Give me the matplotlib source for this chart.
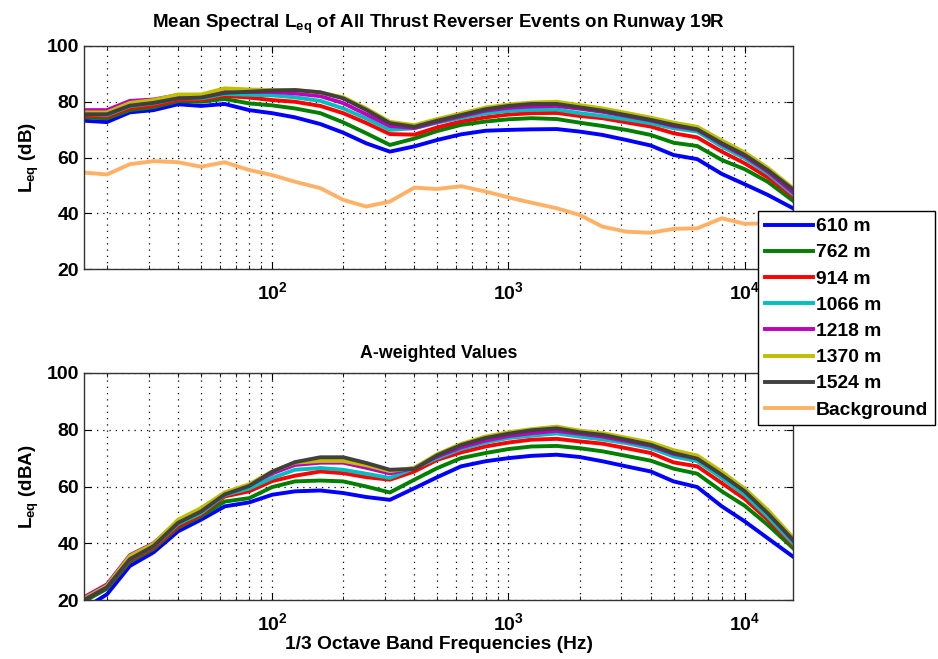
import numpy as np
import matplotlib
matplotlib.use('Agg')
import matplotlib.pyplot as plt
from matplotlib.ticker import LogLocator, NullFormatter, LogFormatterSciNotation

plt.rcParams['font.family'] = ['Liberation Sans', 'DejaVu Sans']
plt.rcParams['font.weight'] = 'bold'
plt.rcParams['mathtext.fontset'] = 'custom'
plt.rcParams['mathtext.rm'] = 'Liberation Sans:bold'
plt.rcParams['mathtext.bf'] = 'Liberation Sans:bold'
plt.rcParams['mathtext.it'] = 'Liberation Sans:bold'
plt.rcParams['mathtext.default'] = 'bf'

# 1/3 octave band centre frequencies (Hz)
freqs = [16, 20, 25, 31.5, 40, 50, 63, 80, 100, 125, 160, 200, 250, 315, 400, 500,
         630, 800, 1000, 1250, 1600, 2000, 2500, 3150, 4000, 5000, 6300, 8000,
         10000, 12500, 16000]

labels = ['610 m', '762 m', '914 m', '1066 m', '1218 m', '1370 m', '1524 m']
colors = ['#0000ff', '#007f00', '#ff0000', '#00bfbf', '#bf00bf', '#bfbf00', '#404040']
bg_color = '#ffb266'

# mean spectral Leq (dB)
top_610 = [73.2, 72.7, 76.2, 77, 79.1, 78.5, 79.2, 77, 75.9, 74.4, 72, 68.9, 65.1, 62.1, 64, 66.3,
           68.3, 69.6, 69.9, 70.1, 70.2, 69.3, 68.1, 66.3, 64.3, 60.9, 59.4, 54.1, 50.4, 46.6, 41.8]
top_762 = [74.4, 74, 77, 78, 80.2, 80, 81, 79.4, 78.7, 77.6, 75.9, 72.6, 68.7, 64.5, 66.8, 69.5,
           71.7, 72.9, 73.7, 74.1, 73.8, 72.5, 71.3, 69.9, 68.1, 65.3, 64.1, 59.1, 55.8, 51.3, 44.5]
top_914 = [75, 74.6, 77.7, 78.6, 80.6, 80.6, 82.1, 81.5, 80.6, 80, 78.5, 75.9, 72.4, 68.4, 68.2, 70.8,
           72.9, 74.4, 75.4, 75.9, 76, 74.9, 74.1, 72.6, 71.1, 68.7, 67.2, 62.1, 57.9, 52.9, 46]
top_1066 = [75.6, 75.2, 78.4, 79.4, 81.2, 81.2, 82.8, 82.5, 82.3, 81.6, 80.3, 77.6, 74, 69.9, 70.5, 72.5,
            74.2, 75.8, 76.7, 77.1, 77.2, 75.9, 74.9, 73.7, 72.3, 70.5, 69.3, 63.9, 59.7, 54.3, 46.8]
top_1218 = [77, 77, 80.3, 80.8, 82.4, 82.2, 83.5, 83.5, 83.5, 83, 82, 79.5, 75.5, 71.3, 70.6, 72.8,
            74.8, 76.8, 77.8, 78.3, 78.5, 77.5, 76.4, 74.9, 73.3, 71.3, 70, 64.8, 60.5, 55, 47.5]
top_1370 = [76.2, 76.2, 79.6, 80.6, 82.6, 82.6, 84.8, 84.4, 84.2, 84.2, 83.3, 81.6, 77.6, 72.8, 71.6, 73.8,
            75.8, 77.9, 79, 79.7, 80, 78.8, 77.6, 76, 74.3, 72.5, 71, 66.1, 61.8, 56.3, 49]
top_1524 = [75.5, 75.5, 78.6, 79.6, 81.2, 81.5, 83.2, 83.6, 84, 84.2, 83.4, 81.2, 77.1, 72.3, 71, 73.2,
            75.2, 77.3, 78.5, 79.2, 79.2, 78, 76.8, 75.2, 73.5, 71.7, 70.1, 65.1, 60.9, 55.5, 48.5]
top_bg = [54.6, 53.9, 57.6, 58.7, 58.3, 56.7, 58.3, 55.5, 53.7, 51.3, 49, 44.8, 42.4, 44.2, 49.2, 48.7,
          49.7, 47.8, 45.7, 43.8, 41.8, 39.4, 35.2, 33.4, 33, 34.4, 34.6, 38.2, 36.2, 36.4, 35.5]

# A-weighted values (dBA)
bot_610 = [17, 22, 32, 36.8, 44.2, 48.3, 53, 54.4, 57.1, 58.3, 58.6, 57.7, 56.3, 55.3, 59.4, 63.3,
           67.1, 68.9, 70, 70.8, 71.2, 70.4, 68.9, 67.1, 65.3, 61.8, 59.8, 53, 47.7, 41.8, 35.3]
bot_762 = [19.5, 24, 33.5, 38, 45.5, 49.5, 54.7, 55.9, 59.8, 61.8, 62.1, 61.8, 60, 57.9, 62.4, 66.5,
           70, 71.8, 73.2, 74.1, 74.3, 73.5, 72.4, 70.8, 69.1, 66.3, 64.5, 58.3, 53.2, 46.5, 38.3]
bot_914 = [20, 24.5, 34, 38.5, 46, 50, 56.5, 58.3, 61.9, 63.8, 65.3, 64.7, 63.3, 62.4, 65.3, 69.4,
           72, 74.1, 75.5, 76.5, 76.8, 75.9, 75.1, 73.5, 71.8, 68.5, 67.1, 61.2, 55.6, 48.3, 39.4]
bot_1066 = [20.3, 24.8, 34.4, 39, 46.8, 50.6, 57, 59.3, 63, 65.9, 66.5, 65.9, 64.5, 63, 66.5, 70,
            73.2, 75.5, 77.1, 77.9, 78.7, 77.6, 76.6, 75.3, 73.5, 70.6, 68.9, 63, 57.1, 49.4, 40]
bot_1218 = [21, 25.5, 35.8, 40, 47.8, 51.3, 57.6, 60.5, 64.6, 67.6, 68.4, 68.4, 66.6, 64.6, 66.6, 70.6,
            73.8, 76.2, 77.8, 78.8, 79.6, 78.6, 77.6, 76, 74.4, 71.5, 69.9, 64.5, 58.5, 51, 41]
bot_1370 = [20.5, 25, 35.5, 39.8, 48.3, 52.4, 57.9, 60.8, 65.3, 68.4, 69, 69, 67.5, 65.4, 66.6, 71.4,
            75, 77.6, 79.1, 80.2, 81.1, 79.7, 78.8, 77.2, 75.5, 72.8, 70.9, 65.2, 59.2, 51.8, 42]
bot_1524 = [20, 24.5, 34.4, 39, 47.2, 51.2, 57.2, 60.2, 65.2, 68.6, 70.3, 70.3, 68.3, 65.9, 66.2, 71,
            74.6, 77.1, 78.6, 79.8, 80.5, 79.1, 78.2, 76.5, 74.7, 71.8, 69.8, 64.1, 58.3, 50.6, 41.2]

top_series = [top_610, top_762, top_914, top_1066, top_1218, top_1370, top_1524]
bot_series = [bot_610, bot_762, bot_914, bot_1066, bot_1218, bot_1370, bot_1524]


def style_axes(ax):
    ax.set_xscale('log')
    ax.set_xlim(16, 16000)
    ax.set_ylim(20, 100)
    ax.set_yticks([20, 40, 60, 80, 100])
    ax.xaxis.set_major_locator(LogLocator(base=10, numticks=10))
    ax.xaxis.set_minor_locator(LogLocator(base=10, subs=np.arange(2, 10), numticks=20))
    ax.xaxis.set_major_formatter(LogFormatterSciNotation())
    ax.xaxis.set_minor_formatter(NullFormatter())
    ax.tick_params(which='both', direction='in', top=True, right=True, labelsize=14)
    ax.tick_params(which='major', length=5)
    ax.tick_params(which='minor', length=3)
    ax.tick_params(axis='x', pad=9)
    ax.grid(True, which='major', linestyle=(0, (1, 4)), color='black', linewidth=0.9)
    ax.grid(True, which='minor', axis='x', linestyle=(0, (1, 4)), color='black', linewidth=0.9)
    for s in ax.spines.values():
        s.set_linewidth(1.0)
        s.set_color('#333333')


fig = plt.figure(figsize=(9.38, 6.59), dpi=100)
ax1 = fig.add_axes([0.0896, 0.5918, 0.7558, 0.3384])
ax2 = fig.add_axes([0.0896, 0.0895, 0.7558, 0.3445])

lw = 2.8
handles = []
for vals, lab, c in zip(top_series, labels, colors):
    h, = ax1.plot(freqs, vals, color=c, linewidth=lw, label=lab)
    handles.append(h)
h, = ax1.plot(freqs, top_bg, color=bg_color, linewidth=lw, label='Background')
handles.append(h)

for vals, lab, c in zip(bot_series, labels, colors):
    ax2.plot(freqs, vals, color=c, linewidth=lw)

for ax in (ax1, ax2):
    style_axes(ax)

ax1.set_title('Mean Spectral L$_{eq}$ of All Thrust Reverser Events on Runway 19R',
              fontsize=13.5, fontweight='bold', pad=13)
ax1.set_ylabel('L$_{eq}$ (dB)', fontsize=13.5, fontweight='bold')
ax2.set_title('A-weighted Values', fontsize=12.8, fontweight='bold', pad=11)
ax2.set_ylabel('L$_{eq}$ (dBA)', fontsize=13.5, fontweight='bold')
ax2.set_xlabel('1/3 Octave Band Frequencies (Hz)', fontsize=13.8, fontweight='bold', labelpad=1)

leg = fig.legend(handles=handles, loc='upper left', bbox_to_anchor=(758 / 938, 1 - 211 / 659),
                 fontsize=13.9, frameon=True, fancybox=False, framealpha=1, edgecolor='black',
                 handlelength=2.5, handletextpad=0.15, labelspacing=0.45, borderpad=0.35,
                 borderaxespad=0)
leg.get_frame().set_linewidth(1.0)
for t in leg.get_texts():
    t.set_fontweight('bold')

fig.savefig('out.png', dpi=100)
